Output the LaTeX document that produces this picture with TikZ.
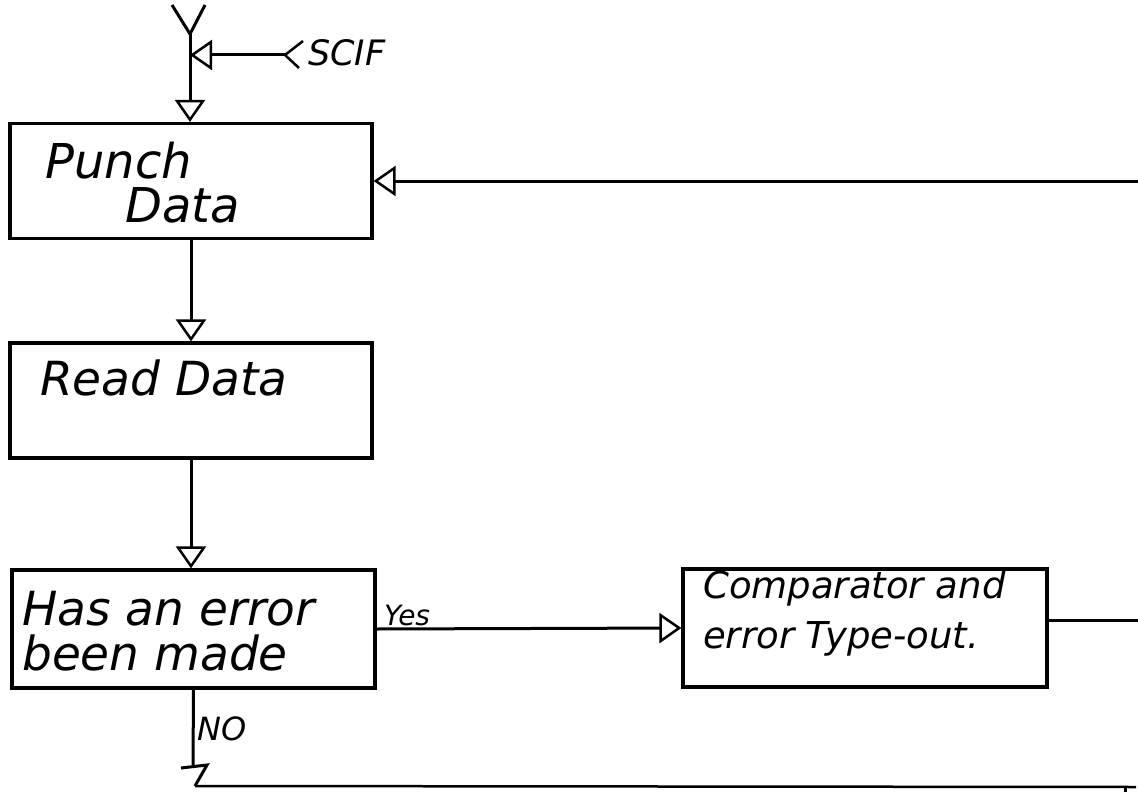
\documentclass[tikz,border=0pt]{standalone}
\usepackage{fontspec}
\setmainfont{DejaVu Sans}
\usetikzlibrary{arrows.meta,calc}
\tikzset{
  box/.style={draw, line width=3.2pt, rectangle, inner sep=0pt, minimum width=362pt, minimum height=115pt},
  hand/.style={inner sep=0pt, anchor=base west, font=\fontsize{42}{50}\selectfont\itshape},
  wire/.style={line width=3pt},
  flow/.style={line width=3pt, -{Triangle[open,length=22pt,width=30pt,line width=2.5pt]}},
}
\begin{document}
\begin{tikzpicture}[x=1pt,y=-1pt]
\useasboundingbox (0,0) rectangle (1138,792);
% boxes
\node[box] (punch) at (191,181) {};
\node[box, minimum height=115pt] (read) at (191,400.5) {};
\node[box, minimum width=363pt, minimum height=118pt] (err) at (193.5,629) {};
\node[box, minimum width=364pt, minimum height=118pt] (comp) at (865,628) {};
% texts
\node[hand, font=\fontsize{48}{56}\selectfont\itshape] (t1) at (45,178) {Punch};
\node[hand, font=\fontsize{48}{56}\selectfont\itshape] (t2) at (125,222) {Data};
\node[hand, font=\fontsize{47}{56}\selectfont\itshape] (t3) at (40,395) {Read Data};
\node[hand, font=\fontsize{47}{54}\selectfont\itshape] (t4) at (22,625) {Has an error};
\node[hand, font=\fontsize{47}{54}\selectfont\itshape] (t5) at (22,670) {been made};
\node[hand, font=\fontsize{37}{44}\selectfont\itshape] (t6) at (703,598) {Comparator and};
\node[hand, font=\fontsize{37}{44}\selectfont\itshape] (t7) at (703,648) {error Type-out.};
\node[hand, font=\fontsize{35}{42}\selectfont\itshape] (scif) at (308,66) {SCIF};
\node[hand, font=\fontsize{28}{34}\selectfont\itshape] (yes) at (384,625) {Yes};
\node[hand, font=\fontsize{32}{38}\selectfont\itshape] (no) at (197,740) {NO};
% Y fork at top
\coordinate (fl) at (172,5);
\coordinate (fr) at (205,5);
\coordinate (fj) at (190,34);
\draw[wire] (fl) -- (fj) -- (fr);
\draw[flow] (fj) -- (fj |- punch.north);
% SCIF input
\coordinate (sv) at (285,55);
\coordinate (sa) at (303,41);
\coordinate (sb) at (299,68);
\draw[wire, line width=2.5pt] (sa) -- (sv) -- (sb);
\draw[flow] (sv) -- (fj |- sv);
% vertical flow
\draw[flow] (punch.south) -- (read.north);
\draw[flow] (read.south) -- (read.south |- err.north);
% yes branch
\draw[flow] (err.east) -- (comp.west);
\coordinate (cout) at (1138,620);
\draw[wire] ([yshift=8pt]comp.east) -- (cout);
% return into punch
\coordinate (rin) at (1138,181);
\draw[flow] (rin) -- (punch.east);
% no branch
\coordinate (nstem) at (193,765);
\draw[wire] (err.south) -- (nstem);
\coordinate (ha) at (181,768);
\coordinate (hb) at (207,765);
\coordinate (hc) at (195,786);
\draw[wire] (ha) -- (hb) -- (hc);
\coordinate (bend) at (1136,787);
\draw[wire, line width=2.5pt] (hc) -- (bend);
\coordinate (tick) at (1125,787);
\coordinate (tickb) at (1125,792);
\draw[wire] (tick) -- (tickb);
\end{tikzpicture}
\end{document}
